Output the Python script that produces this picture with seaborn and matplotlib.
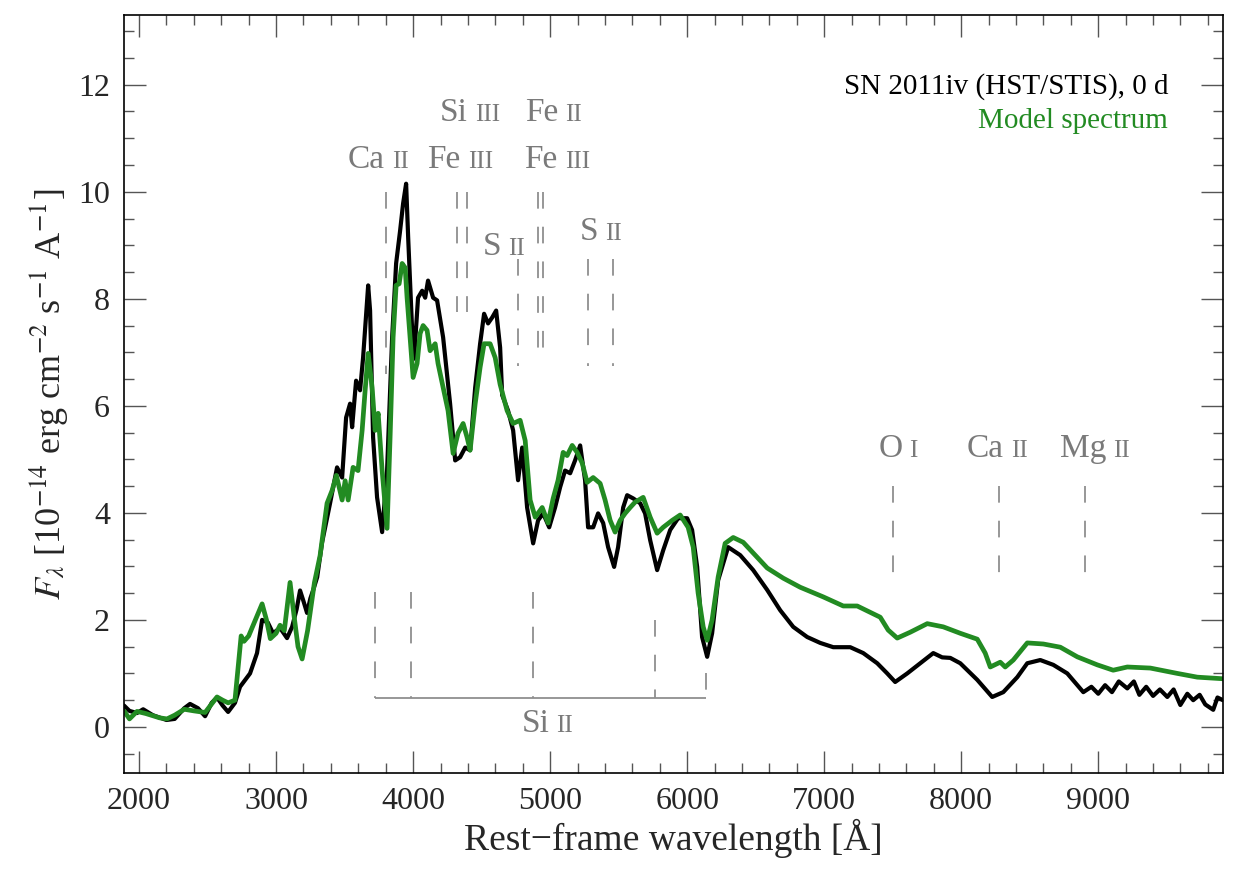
import numpy as np
import pandas as pd
import seaborn as sns
import matplotlib
matplotlib.use('Agg')
import matplotlib.pyplot as plt
from matplotlib.ticker import MultipleLocator
from matplotlib.offsetbox import TextArea, HPacker, AnnotationBbox

obs_wave = [1890, 1930, 1985, 2030, 2100, 2200, 2260, 2330, 2372, 2430, 2482, 2530, 2569,
            2610, 2650, 2700, 2737, 2810, 2861, 2898, 2940, 2978, 3029, 3080, 3117, 3150,
            3175, 3200, 3226, 3250, 3270, 3300, 3336, 3394, 3445, 3482, 3511, 3540, 3555,
            3584, 3613, 3635, 3672, 3686, 3708, 3737, 3774, 3810, 3847, 3876, 3905, 3927,
            3949, 3964, 3993, 4007, 4036, 4066, 4088, 4109, 4146, 4175, 4219, 4270, 4307,
            4343, 4380, 4416, 4453, 4489, 4518, 4547, 4577, 4606, 4635, 4650, 4693, 4730,
            4766, 4796, 4832, 4876, 4912, 4949, 4993, 5036, 5073, 5109, 5146, 5182, 5219,
            5255, 5277, 5314, 5350, 5387, 5423, 5467, 5496, 5533, 5562, 5606, 5657, 5693,
            5730, 5781, 5825, 5876, 5934, 6000, 6036, 6073, 6109, 6146, 6182, 6226, 6299,
            6387, 6482, 6584, 6679, 6774, 6876, 6971, 7066, 7190, 7285, 7387, 7460, 7518,
            7606, 7701, 7796, 7861, 7920, 7993, 8117, 8226, 8307, 8409, 8482, 8577, 8672,
            8774, 8891, 8950, 9000, 9050, 9100, 9150, 9212, 9260, 9300, 9350, 9400, 9450,
            9504, 9550, 9599, 9650, 9693, 9740, 9781, 9839, 9870, 9910]
obs_flux = [0.40, 0.30, 0.26, 0.33, 0.22, 0.13, 0.15, 0.35, 0.43, 0.35, 0.20, 0.45, 0.55,
            0.40, 0.28, 0.45, 0.75, 1.00, 1.38, 2.00, 1.95, 1.75, 1.85, 1.66, 1.87, 2.20,
            2.55, 2.35, 2.13, 2.40, 2.55, 2.80, 3.45, 4.18, 4.85, 4.66, 5.78, 6.04, 5.60,
            6.47, 6.29, 6.90, 8.25, 7.78, 5.41, 4.29, 3.64, 4.79, 7.28, 8.66, 9.27, 9.78,
            10.15, 9.14, 7.41, 6.88, 8.02, 8.15, 8.02, 8.34, 8.02, 7.97, 7.28, 6.04, 4.98,
            5.04, 5.22, 5.17, 6.34, 7.16, 7.72, 7.54, 7.65, 7.78, 7.09, 6.20, 5.91, 5.54,
            4.61, 5.22, 4.10, 3.43, 3.86, 3.99, 3.73, 4.10, 4.48, 4.79, 4.74, 4.98, 5.26,
            4.61, 3.73, 3.73, 3.99, 3.81, 3.36, 2.99, 3.36, 4.10, 4.33, 4.27, 4.18, 3.99,
            3.49, 2.93, 3.30, 3.68, 3.90, 3.90, 3.68, 2.99, 1.68, 1.31, 1.75, 2.74, 3.36,
            3.21, 2.93, 2.56, 2.18, 1.87, 1.68, 1.57, 1.49, 1.49, 1.38, 1.19, 1.00, 0.84,
            1.00, 1.19, 1.38, 1.30, 1.29, 1.19, 0.88, 0.56, 0.65, 0.93, 1.19, 1.25, 1.16,
            1.00, 0.65, 0.75, 0.62, 0.78, 0.65, 0.85, 0.72, 0.85, 0.60, 0.75, 0.58, 0.70,
            0.56, 0.70, 0.41, 0.62, 0.50, 0.60, 0.42, 0.32, 0.55, 0.50]

# Model spectrum.
mod_wave = [1890, 1930, 1985, 2050, 2150, 2204, 2260, 2330, 2400, 2482, 2569, 2610, 2650,
            2700, 2745, 2766, 2800, 2898, 2930, 2958, 3000, 3029, 3060, 3102, 3130, 3160,
            3190, 3230, 3280, 3321, 3372, 3409, 3440, 3482, 3504, 3526, 3562, 3598, 3628,
            3650, 3672, 3701, 3723, 3745, 3774, 3810, 3832, 3854, 3876, 3898, 3920, 3942,
            3956, 3978, 4000, 4029, 4051, 4073, 4102, 4124, 4161, 4182, 4219, 4255, 4292,
            4328, 4365, 4394, 4416, 4453, 4489, 4518, 4562, 4599, 4635, 4686, 4730, 4781,
            4818, 4854, 4891, 4942, 4985, 5022, 5058, 5095, 5124, 5161, 5197, 5234, 5270,
            5314, 5365, 5401, 5438, 5474, 5511, 5547, 5584, 5620, 5679, 5730, 5781, 5825,
            5891, 5949, 6007, 6044, 6080, 6117, 6146, 6182, 6226, 6277, 6336, 6409, 6511,
            6584, 6701, 6825, 6993, 7139, 7241, 7409, 7467, 7533, 7628, 7752, 7869, 7993,
            8117, 8175, 8212, 8285, 8321, 8380, 8482, 8599, 8723, 8847, 8993, 9109, 9212,
            9380, 9577, 9723, 9912]
mod_flux = [0.30, 0.15, 0.29, 0.25, 0.17, 0.15, 0.22, 0.33, 0.30, 0.27, 0.56, 0.50, 0.45,
            0.50, 1.70, 1.60, 1.70, 2.30, 2.00, 1.65, 1.75, 1.90, 1.80, 2.70, 2.10, 1.50,
            1.27, 1.80, 2.70, 3.20, 4.18, 4.42, 4.70, 4.24, 4.60, 4.24, 4.85, 4.79, 5.54,
            6.29, 6.98, 6.34, 5.54, 5.86, 4.79, 3.71, 5.41, 7.28, 8.25, 8.28, 8.66, 8.58,
            8.02, 7.28, 6.53, 6.79, 7.35, 7.50, 7.41, 7.03, 7.16, 6.79, 6.34, 5.91, 5.11,
            5.49, 5.67, 5.41, 5.17, 6.04, 6.72, 7.16, 7.16, 6.90, 6.40, 5.91, 5.67, 5.73,
            5.35, 4.24, 3.92, 4.10, 3.81, 4.27, 4.61, 5.13, 5.07, 5.26, 5.13, 4.93, 4.57,
            4.66, 4.55, 4.24, 3.86, 3.64, 3.86, 3.99, 4.10, 4.20, 4.29, 3.92, 3.62, 3.73,
            3.86, 3.96, 3.73, 3.36, 2.50, 1.87, 1.62, 2.00, 2.80, 3.43, 3.54, 3.45, 3.17,
            2.97, 2.78, 2.61, 2.43, 2.26, 2.26, 2.05, 1.81, 1.66, 1.77, 1.93, 1.87, 1.75,
            1.64, 1.38, 1.12, 1.21, 1.12, 1.25, 1.57, 1.55, 1.49, 1.31, 1.16, 1.06, 1.12,
            1.10, 1.00, 0.93, 0.90]

# Line identifications.
ion_element = ['Ca', 'Fe', 'Si', 'Fe', 'Fe', 'S', 'S', 'O', 'Ca', 'Mg', 'Si']
ion_stage = ['II', 'III', 'III', 'II', 'III', 'II', 'II', 'I', 'II', 'II', 'II']
ion_label_x = [3745, 4343, 4416, 5022, 5051, 4664, 5372, 7540, 8263, 8978, 4978]
ion_label_y = [10.32, 10.32, 11.19, 11.19, 10.32, 8.69, 8.96, 4.91, 4.91, 4.91, -0.22]

mark_wave = [3803, 4321, 4394, 4912, 4949, 4766, 5277, 5460, 7504, 8277, 8905,
             3723, 3985, 4876, 5766, 6139]
mark_top = [10.0, 10.0, 10.0, 10.0, 10.0, 8.75, 8.75, 8.75, 4.5, 4.5, 4.5,
            2.52, 2.52, 2.52, 2.0, 1.0]
mark_bottom = [6.6, 7.75, 7.75, 6.9, 6.9, 6.75, 6.75, 6.75, 2.8, 2.8, 2.8,
               0.54, 0.54, 0.54, 0.54, 0.54]
si_bar = (3723, 6139, 0.54)

sns.set_style('ticks')
plt.rcParams['font.family'] = ['Liberation Serif', 'DejaVu Serif']
plt.rcParams['mathtext.fontset'] = 'stix'
plt.rcParams['lines.scale_dashes'] = False

fig, ax = plt.subplots(figsize=(12.46, 8.90), dpi=100)
fig.subplots_adjust(left=0.0995, right=0.9815, top=0.983, bottom=0.1315)

obs = pd.DataFrame({'wave': obs_wave, 'flux': obs_flux})
mod = pd.DataFrame({'wave': mod_wave, 'flux': mod_flux})

green = '#228b22'
grey_line = '#8f8f8f'
grey_text = '#7a7a7a'

# identification marks (dash pattern starts at the top end)
ax.vlines(mark_wave, mark_top, mark_bottom, colors=grey_line, lw=1.3,
          linestyles=[(0, (12, 13))])
ax.hlines(si_bar[2], si_bar[0], si_bar[1], colors=grey_line, lw=1.3)

sns.lineplot(data=obs, x='wave', y='flux', color='black', lw=3.0, ax=ax, sort=False)
sns.lineplot(data=mod, x='wave', y='flux', color=green, lw=3.4, ax=ax, sort=False)

for el, st, x, y in zip(ion_element, ion_stage, ion_label_x, ion_label_y):
    box = HPacker(children=[TextArea(el, textprops=dict(size=24, color=grey_text)),
                            TextArea(st, textprops=dict(size=18, color=grey_text))],
                  align='baseline', pad=0, sep=5)
    ab = AnnotationBbox(box, (x, y), frameon=False, box_alignment=(0.5, 0.0), pad=0)
    ax.add_artist(ab)

ax.text(0.950, 0.896, 'SN 2011iv (HST/STIS), 0 d', transform=ax.transAxes,
        ha='right', va='baseline', fontsize=21, color='black')
ax.text(0.950, 0.851, 'Model spectrum', transform=ax.transAxes,
        ha='right', va='baseline', fontsize=21, color=green)

ax.set_xlim(1890, 9910)
ax.set_ylim(-0.86, 13.3)
ax.xaxis.set_major_locator(MultipleLocator(1000))
ax.xaxis.set_minor_locator(MultipleLocator(200))
ax.yaxis.set_major_locator(MultipleLocator(2))
ax.yaxis.set_minor_locator(MultipleLocator(0.5))
ax.tick_params(which='both', direction='in', top=True, right=True,
               color='#555555', width=1.0, labelsize=23, pad=10)
ax.tick_params(which='major', length=16)
ax.tick_params(which='minor', length=7)
for sp in ax.spines.values():
    sp.set_linewidth(1.2)
    sp.set_color('black')

ax.set_xlabel('Rest\u2212frame wavelength [Å]', fontsize=27, labelpad=2)
ax.set_ylabel(r'$F_\lambda$ [10$^{-14}$ erg cm$^{-2}$ s$^{-1}$ A$^{-1}$]', fontsize=26, labelpad=6)

fig.savefig('out.png', dpi=100)
